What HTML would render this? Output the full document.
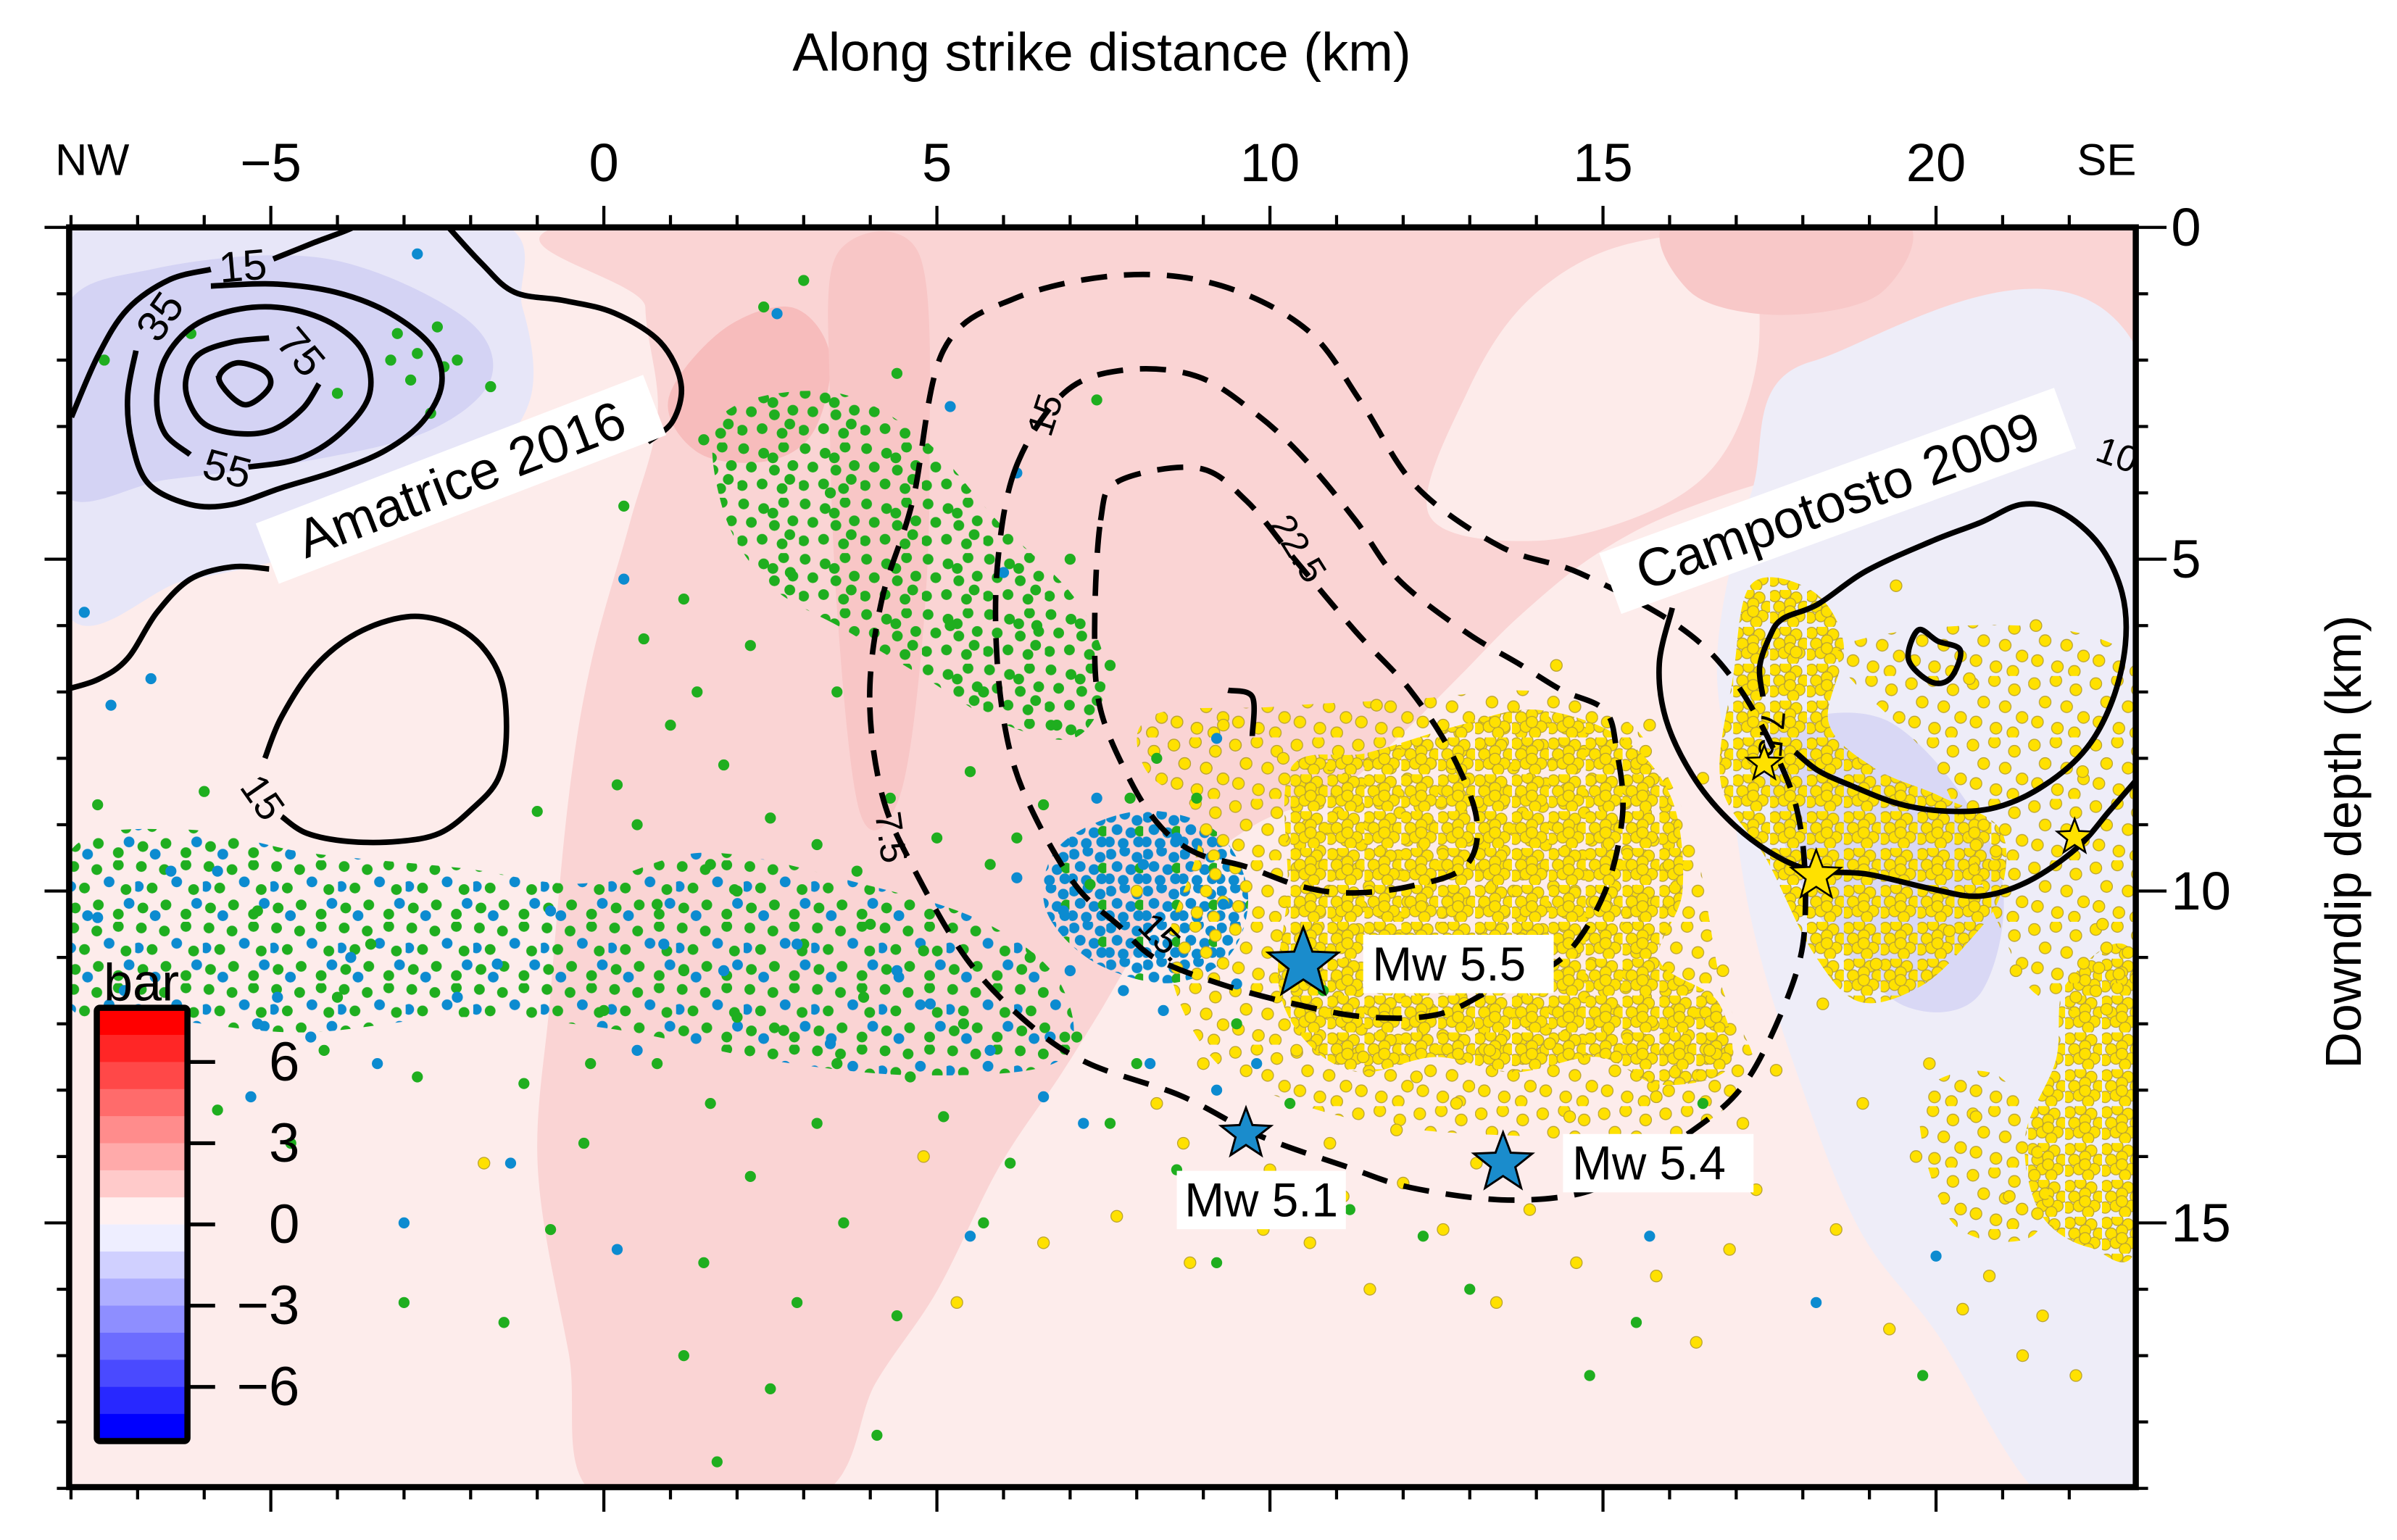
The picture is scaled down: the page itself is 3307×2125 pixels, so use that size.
<!DOCTYPE html>
<html><head><meta charset="utf-8">
<style>
html,body{margin:0;padding:0;background:#fff;}
svg{display:block;}
text{font-family:"Liberation Sans",Arial,sans-serif;}
</style></head>
<body>
<svg id="chart" xmlns="http://www.w3.org/2000/svg" width="3307" height="2125" viewBox="0 0 1560 1002.4">
<defs>
<clipPath id="plotclip"><rect x="45" y="148" width="1345" height="820"/></clipPath>
<pattern id="patY" width="24" height="24" patternUnits="userSpaceOnUse">
<g fill="#ffe100" stroke="#b9a233" stroke-width="0.6">
<circle cx="3" cy="4" r="3.7"/><circle cx="10" cy="2" r="3.7"/><circle cx="17" cy="5" r="3.7"/><circle cx="22" cy="11" r="3.7"/>
<circle cx="6" cy="11" r="3.7"/><circle cx="13" cy="9" r="3.7"/><circle cx="19" cy="17" r="3.7"/><circle cx="2" cy="18" r="3.7"/>
<circle cx="9" cy="17" r="3.7"/><circle cx="15" cy="21" r="3.7"/><circle cx="13" cy="14" r="3.7"/>
</g>
</pattern>
<pattern id="patYs" width="40" height="40" patternUnits="userSpaceOnUse">
<g fill="#ffe100" stroke="#b9a233" stroke-width="0.6">
<circle cx="4" cy="5" r="3.8"/><circle cx="18" cy="3" r="3.8"/><circle cx="31" cy="9" r="3.8"/><circle cx="11" cy="17" r="3.8"/>
<circle cx="25" cy="20" r="3.8"/><circle cx="36" cy="27" r="3.8"/><circle cx="6" cy="30" r="3.8"/><circle cx="19" cy="34" r="3.8"/><circle cx="30" cy="37" r="3.8"/>
</g>
</pattern>
<pattern id="patG" width="40" height="36" patternUnits="userSpaceOnUse">
<g fill="#1fae1f">
<circle cx="4" cy="4" r="3.5"/><circle cx="17" cy="7" r="3.5"/><circle cx="30" cy="3" r="3.5"/><circle cx="9" cy="16" r="3.5"/>
<circle cx="24" cy="18" r="3.5"/><circle cx="36" cy="15" r="3.5"/><circle cx="3" cy="28" r="3.5"/><circle cx="16" cy="27" r="3.5"/><circle cx="29" cy="30" r="3.5"/>
<circle cx="23" cy="10" r="3.5"/><circle cx="34" cy="24" r="3.5"/>
</g>
</pattern>
<pattern id="patGB" width="44" height="40" patternUnits="userSpaceOnUse">
<g fill="#1fae1f">
<circle cx="4" cy="4" r="3.5"/><circle cx="19" cy="6" r="3.5"/><circle cx="33" cy="3" r="3.5"/><circle cx="11" cy="18" r="3.5"/>
<circle cx="38" cy="19" r="3.5"/><circle cx="5" cy="31" r="3.5"/><circle cx="20" cy="29" r="3.5"/><circle cx="33" cy="35" r="3.5"/>
</g>
<g fill="#0c8bd0">
<circle cx="27" cy="14" r="3.5"/><circle cx="13" cy="36" r="3.5"/><circle cx="40" cy="28" r="3.5"/><circle cx="2" cy="17" r="3.5"/>
</g>
</pattern>
<pattern id="patB" width="24" height="24" patternUnits="userSpaceOnUse">
<g fill="#0c8bd0">
<circle cx="3" cy="4" r="3.5"/><circle cx="12" cy="2" r="3.5"/><circle cx="20" cy="6" r="3.5"/><circle cx="7" cy="12" r="3.5"/>
<circle cx="16" cy="14" r="3.5"/><circle cx="2" cy="20" r="3.5"/><circle cx="11" cy="21" r="3.5"/><circle cx="21" cy="20" r="3.5"/>
</g>
<circle cx="22" cy="13" r="3.5" fill="#1fae1f"/>
</pattern>
</defs>
<g id="plot" clip-path="url(#plotclip)"></g>
<g id="overlay"></g>
<g id="axes"></g>
</svg>
<script>
// ---- data (km) ----
const xTicks = [-5, 0, 5, 10, 15, 20];
const yTicks = [0, 5, 10, 15];
const cbarValues = [8,7,6,5,4,3,2,1,0,-1,-2,-3,-4,-5,-6,-7];
const cbarColors = ["#ff0000","#ff2626","#ff4848","#ff6b6b","#ff8c8c","#ffaaaa","#ffcaca","#fff0f0","#eeeeff","#d0d0ff","#aeaeff","#8e8eff","#6c6cff","#4a4aff","#2828ff","#0000ff"];
const cbarTicks = [6, 3, 0, -3, -6];
const mainshockX = [10.5, 9.64, 13.5];
const mainshockY = [11.1, 13.66, 14.1];
const mainshockLabels = ["Mw 5.5", "Mw 5.1", "Mw 5.4"];
const campoX = [17.42, 18.2, 22.08];
const campoY = [8.08, 9.77, 9.19];
const campoSize = [12, 17, 12];
const greenPts = [[-7.5,2],[-6.2,1.6],[-4,2.5],[-2.2,2],[-2.6,2.8],[-0.5,3.1],[0.3,4.2],[1.2,5.6],[1.5,3.2],[2.4,1.2],[3,0.8],[2.2,6.3],[1,7.5],[3.5,7],[5.5,8.2],[6.8,7.5],[8.3,8],[7.4,2.6],[4.4,2.2],[6.5,6],[0.5,9],[-1,8.8],[2,10],[3.2,9.3],[5.8,9.6],[6.4,11],[4.6,12.8],[3.2,13.5],[2.2,14.3],[1.5,15.6],[3.6,15],[-1.5,16.5],[-3,16.2],[1.2,17],[2.5,17.5],[4.4,16.4],[5.7,15],[7.6,13.5],[8.6,14.2],[9.2,15.6],[10.3,13.2],[11.2,14.8],[12.3,15.2],[13,16],[15.5,16.5],[14.8,17.3],[16.5,13.2],[19.8,17.3],[-6,8.5],[-7.6,8.7],[-4.7,13.8],[-2.8,12.8],[-0.3,13.8],[0.8,12.6],[-5.8,13.3],[9.5,12],[8,12.6],[10.8,11.5],[4,10.5],[1.2,11.2],[-3.5,10.8],[-6.5,11.8],[0,11.8],[5.2,6],[7,5],[3.8,9.7],[-3.1,1.6],[-2.8,1.9],[-2.5,1.5],[-2.9,2.3],[-2.4,2.1],[-3.2,2.0],[-1.7,2.4],[0.6,6.2],[1.8,8.1],[2.7,12.1],[3.9,11.6],[5.1,13.4],[6.1,14.1],[7.1,12.2],[-4.2,12.4],[-1.2,12.9],[1.6,13.2],[-0.8,15.1],[2.9,16.2],[4.1,18.2],[1.7,18.6],[-4,11.6],[-5.2,10.3],[8.9,8.6],[6.2,9.2],[0.8,10.2],[1.6,9.6],[2.5,8.9],[4.3,8.6],[5,9.2],[6.6,8.7],[7.3,9.9],[3,10.8],[4.8,10.9],[0.2,8.4],[1.4,7],[2.8,5.2],[3.4,4],[7.6,6.6],[7.9,8.6],[5.7,7],[2,11.9],[3.5,12.6],[5.4,12],[-0.2,12.6]];
const bluePts = [[-7.8,5.8],[-6.5,9.7],[-5.2,12],[-3.8,11],[-2.2,11.6],[-0.8,10.3],[0.5,12.4],[1.8,11.2],[2.9,10.8],[3.4,12.3],[4.9,11.7],[5.8,12.4],[6.7,12.2],[7.2,13.5],[8.2,12.6],[7,11.2],[6.2,9.8],[9.5,11.4],[9.2,13],[-7.2,11.5],[-4.9,11.6],[-6.7,12.8],[-3,15],[-1.4,14.1],[0.2,15.4],[5.5,15.2],[2.6,1.3],[5.2,2.7],[6.2,3.7],[6,5.2],[0.3,5.3],[-2.8,0.4],[9.2,7.7],[15.7,15.2],[18.2,16.2],[20,15.5],[-7,12.2],[-6.8,6.8],[-7.4,7.2],[-5.3,13.1],[-4.4,12.2],[-3.4,12.6],[8.4,11.8],[9.8,12.6],[7.8,11.5],[6.6,13.1],[4.4,11.2],[-7.6,10.4],[-5.8,9.7],[-1.6,11.1],[0.9,10.8],[7.4,8.6],[8.6,9.2],[6.9,10.3],[9.3,10.2],[8.1,9.6]];
const yellowPts = [[9.3,7.5],[10.2,8],[11.6,7.2],[12.6,7.5],[14.3,6.6],[15.7,7.5],[16.5,8.3],[9.2,14.7],[8.8,15.6],[10.6,15.3],[11.5,16],[12.6,15.1],[13.4,16.2],[14.6,15.6],[15.8,15.8],[16.4,16.8],[17.3,14.5],[18.5,15.1],[19.7,14],[20.8,15.8],[21.3,17],[21.6,16.4],[17.6,12.7],[16.8,11.2],[15.2,12.5],[14.5,13.4],[12.8,13.2],[11.4,12.5],[10.9,13.8],[7.7,14.9],[6.6,15.3],[4.8,14],[8,10],[20.5,6.8],[19.4,5.4],[21.5,6],[22.2,8.2],[22.5,10.5],[21.2,11.2],[20.2,10.6],[17.9,6.4],[-1.8,14.1],[5.3,16.2],[22.1,17.3],[19.3,16.6],[13.9,14.8],[10,14.2],[12,14.4],[9.6,13.6],[10.4,12.4],[12.2,12.8],[13.3,12.4],[16.1,14.2],[17.1,13.5],[18.9,13.2],[19.9,12.6],[20.6,13.4],[21.1,14.6],[8.7,13.8],[9.9,15.1],[11.1,14.6],[14.9,14.2],[16.9,15.4],[20.4,16.3],[8.3,13.2],[9,12.6],[11.9,13.6],[13.1,14.1],[14.2,12.3],[15.8,13.1],[16.6,12.4],[18.3,11.7],[19.1,11.1]];

// ---- axes ----
const X0 = 393, XS = 43.35, Y0 = 148, YS = 43.2;
function X(k){ return X0 + k*XS; }
function Y(d){ return Y0 + d*YS; }
const NS = "http://www.w3.org/2000/svg";
function el(tag, attrs, parent){
  const e = document.createElementNS(NS, tag);
  for (const k in attrs) e.setAttribute(k, attrs[k]);
  parent.appendChild(e);
  return e;
}
function smooth(pts, closed){
  const n = pts.length;
  const P = i => closed ? pts[(i+n)%n] : pts[Math.max(0, Math.min(n-1, i))];
  let d = "M" + pts[0][0] + "," + pts[0][1];
  const last = closed ? n : n-1;
  for (let i=0;i<last;i++){
    const p0=P(i-1), p1=P(i), p2=P(i+1), p3=P(i+2);
    const c1=[p1[0]+(p2[0]-p0[0])/6, p1[1]+(p2[1]-p0[1])/6];
    const c2=[p2[0]-(p3[0]-p1[0])/6, p2[1]-(p3[1]-p1[1])/6];
    d += "C"+c1[0].toFixed(1)+","+c1[1].toFixed(1)+" "+c2[0].toFixed(1)+","+c2[1].toFixed(1)+" "+p2[0].toFixed(1)+","+p2[1].toFixed(1);
  }
  return d + (closed ? "Z" : "");
}
const z3 = p => [542.5+0.395*p[0], 155.7+0.4255*p[1]];
const z4 = p => [1067.3+0.2106*p[0], 251.3+0.2406*p[1]];
const z5 = p => [42.45+0.2708*p[0], 141.5+0.2708*p[1]];

const plot = document.getElementById('plot');
const overlay = document.getElementById('overlay');
const axes = document.getElementById('axes');

// ---- stress background ----
function region(name, pts, fill){
  const p = el('path', {d: smooth(pts, true), fill: fill}, plot);
  
  
}
el('rect', {x:45, y:148, width:1345, height:820, fill:'#fdeceb'}, plot);
region('stress-positive-band', [[425,140],[1400,140],[1400,255],[1200,300],[1100,330],[1040,360],[990,400],[950,440],[910,480],[870,515],[820,535],[780,565],[745,610],[715,660],[690,700],[650,760],[610,840],[570,900],[530,975],[390,975],[370,880],[350,760],[358,650],[370,520],[385,430],[410,340],[428,270],[420,200]], '#fad4d4');
region('stress-light-patch', [[930,335],[955,255],[995,195],[1055,160],[1130,158],[1145,220],[1125,290],[1080,330],[1000,352]], '#fdebea');
region('stress-high-patch', [[435,260],[470,215],[515,200],[540,230],[530,280],[500,300],[455,295]], '#f7bcbc');
region('stress-high-strip', [[545,165],[598,165],[605,300],[600,420],[585,520],[560,530],[545,400],[540,260]], '#f8c6c6');
region('stress-top-right-patch', [[1090,140],[1235,140],[1225,190],[1160,205],[1100,190]], '#f8c8c8');
region('stress-negative-right', [[1180,235],[1400,250],[1400,975],[1330,975],[1262,870],[1210,800],[1170,700],[1140,600],[1125,500],[1118,420],[1140,320]], '#eeedf8');
region('stress-negative-right-core', [[1150,480],[1230,470],[1300,560],[1290,645],[1240,655],[1190,605],[1160,545]], '#d9d8f5');
region('stress-negative-topleft', [[40,140],[310,140],[340,200],[345,260],[310,305],[250,335],[190,362],[120,378],[40,392]], '#e7e6f8');
region('stress-negative-topleft-core', [[40,205],[100,175],[210,168],[300,205],[320,245],[280,280],[200,300],[110,312],[40,320]], '#d4d3f4');

// ---- seismicity density clouds ----
function cloud(name, pts, fill){
  const p = el('path', {d: smooth(pts, true), fill: fill}, plot);
  
  
}
cloud('amatrice-green-cluster', [[470,270],[540,255],[600,285],[650,340],[700,390],[720,440],[700,480],[650,470],[600,440],[550,410],[500,380],[470,330]], 'url(#patG)');
cloud('amatrice-band-cluster', [[45,555],[120,540],[200,555],[300,565],[380,575],[460,555],[560,575],[640,600],[690,640],[690,690],[600,700],[500,690],[400,670],[300,662],[200,672],[120,665],[45,655]], 'url(#patGB)');
cloud('blue-cluster', [[690,550],[740,528],[790,540],[812,580],[800,622],[760,640],[710,625],[680,590]], 'url(#patB)');
cloud('campotosto-sparse-cluster', [[745,470],[830,460],[920,455],[1000,450],[1060,470],[1100,540],[1120,640],[1140,700],[1080,745],[1000,740],[920,735],[850,720],[790,690],[760,620],[780,540]], 'url(#patYs)');
cloud('campotosto-main-cluster', [[840,500],[890,490],[950,472],[1000,462],[1055,480],[1088,520],[1095,580],[1080,625],[1118,652],[1125,695],[1080,706],[1040,688],[985,698],[935,688],[885,698],[850,678],[832,640],[838,580]], 'url(#patY)');
cloud('campotosto-right-cluster', [[1140,380],[1180,385],[1200,420],[1190,470],[1220,500],[1262,518],[1302,540],[1302,582],[1282,612],[1250,642],[1210,652],[1180,620],[1150,560],[1120,510],[1128,440]], 'url(#patY)');
cloud('campotosto-far-right-cluster', [[1345,640],[1390,625],[1392,805],[1360,812],[1328,790],[1318,740],[1338,690]], 'url(#patY)');
cloud('campotosto-lower-right-cluster', [[1250,715],[1300,700],[1332,760],[1322,805],[1270,795]], 'url(#patYs)');
cloud('campotosto-mid-right-cluster', [[1200,420],[1390,430],[1390,640],[1330,650],[1300,600],[1260,500]], 'url(#patYs)');
cloud('amatrice-small-cluster', [[745,470],[800,465],[812,500],[770,515],[745,500]], 'url(#patYs)');

// ---- sparse events ----
greenPts.forEach(p => {
  const c = el('circle', {cx: X(p[0]), cy: Y(p[1]), r: 3.6, fill: '#1fae1f'}, plot);
  
  
});
bluePts.forEach(p => {
  const c = el('circle', {cx: X(p[0]), cy: Y(p[1]), r: 3.6, fill: '#0c8bd0'}, plot);
  
  
});
yellowPts.forEach(p => {
  const c = el('circle', {cx: X(p[0]), cy: Y(p[1]), r: 3.8, fill: '#ffe100', stroke: '#b9a233', 'stroke-width': 0.6}, plot);
  
  
});

// ---- contours ----
function contour(name, pts, closed, dashed){
  const a = {d: smooth(pts, closed), fill: 'none', stroke: '#000', 'stroke-width': 3.6, 'stroke-linecap': 'butt'};
  if (dashed) a['stroke-dasharray'] = '17 11';
  const p = el('path', a, plot);
  
  
}
contour('slip-contour-15-top', [[15,480],[80,330],[150,220],[250,150],[350,125]].map(z5), false, false);
contour('slip-contour-15-top-b', [[500,100],[600,60],[690,25],[720,0]].map(z5), false, false);
contour('slip-contour-15-outer', [[900,0],[1000,110],[1080,180],[1200,200],[1320,230],[1430,300],[1480,400],[1460,490],[1400,540]].map(z5), false, false);
contour('slip-contour-15-outer-b', [[490,845],[400,840],[300,870],[220,950],[150,1060],[80,1110],[0,1135]].map(z5), false, false);
contour('slip-contour-35', [[350,165],[500,160],[650,180],[780,230],[880,310],[905,400],[860,490],[770,560],[650,610],[520,650],[400,690],[300,690],[200,640],[160,540],[150,430],[170,320]].map(z5), false, false);
contour('slip-contour-55', [[440,600],[560,580],[660,520],[730,430],[720,330],[650,260],[540,220],[420,220],[310,260],[240,340],[220,440],[240,520],[300,570]].map(z5), false, false);
contour('slip-contour-75', [[490,290],[400,300],[320,330],[290,390],[300,450],[340,500],[420,520],[500,510],[570,460],[610,400]].map(z5), false, false);
contour('slip-contour-95', [[370,390],[410,350],[480,370],[490,410],[430,450]].map(z5), true, false);
contour('slip-contour-15-lower', [[480,1300],[520,1200],[600,1080],[700,1000],[820,960],[920,975],[1000,1030],[1050,1120],[1060,1250],[1040,1350],[980,1420],[900,1480],[800,1500],[680,1500],[580,1480],[520,1440]].map(z5), false, false);
contour('campotosto-contour-outer', [[100,600],[60,750],[80,900],[160,1050],[270,1170],[400,1260],[530,1310],[700,1320],[900,1360],[1050,1380],[1200,1340],[1350,1250],[1450,1150],[1530,1070]].map(z4), false, false);
contour('campotosto-contour-inner', [[380,840],[370,760],[400,680],[440,630],[550,590],[700,500],[900,420],[1050,370],[1180,320],[1300,340],[1420,430],[1490,560],[1500,700],[1460,850],[1380,980],[1250,1080],[1100,1140],[950,1150],[800,1130],[650,1080],[550,1040],[480,990]].map(z4), false, false);
contour('campotosto-contour-peak', [[830,740],[860,660],[920,690],[990,715],[960,790],[900,800]].map(z4), true, false);
contour('dashed-contour-7-5', [[566,454],[574,390],[594,326],[614,228],[661,194],[732,179],[795,186],[851,215],[886,262],[922,317],[977,356],[1028,373],[1093,408],[1130,445],[1160,500],[1172,540],[1175,590],[1170,630],[1150,680],[1130,712],[1100,737],[1060,762],[1028,777],[977,781],[918,773],[878,760],[819,739],[768,713],[708,692],[669,666],[629,624],[594,564],[574,517]], true, true);
contour('dashed-contour-15', [[300,350],[270,500],[270,650],[290,780],[330,880],[400,990],[470,1050],[530,1100],[640,1140],[760,1170],[880,1190],[1000,1185],[1100,1140],[1200,1100],[1270,1000],[1300,880],[1290,780],[1270,720],[1200,690],[1130,650],[1040,600],[930,520],[860,430],[780,340],[700,270],[600,210],[480,200],[380,235]].map(z3), true, true);
contour('dashed-contour-22-5', [[440,430],[470,370],[600,350],[680,400],[760,490],[860,600],[950,690],[1020,790],[1060,890],[1040,960],[950,990],[850,1000],[770,990],[680,960],[600,940],[540,900],[490,830],[440,720],[430,600]].map(z3), true, true);
contour('dashed-contour-small', [[650,690],[690,700],[690,760]].map(z3), false, false);

// ---- contour labels ----
function clabel(name, txt, x, y, rot, size){
  const t = el('text', {x:x, y:y, 'font-size': size||26, 'text-anchor':'middle', 'dominant-baseline':'central', transform:'rotate('+rot+' '+x+' '+y+')', fill:'#000'}, plot);
  t.textContent = txt;
  
  
}
clabel('contour-label-15-top', '15', 158, 173, -5, 28);
clabel('contour-label-35', '35', 104, 206, -55, 28);
clabel('contour-label-75', '75', 196, 229, 50, 28);
clabel('contour-label-55', '55', 148, 305, 15, 28);
clabel('contour-label-15-lower', '15', 171, 519, 55, 26);
clabel('contour-label-15-dashed', '15', 680, 270, -72, 24);
clabel('contour-label-22-5', '22.5', 845, 357, 58, 24);
clabel('contour-label-7-5', '7.5', 580, 545, 82, 24);
clabel('contour-label-15-inner', '15.', 757, 610, 45, 24);
clabel('contour-label-7-5-campotosto', '7.5', 1153, 478, 95, 22);
clabel('contour-label-10', '10', 1378, 296, 20, 24);

// ---- event labels ----
function boxedText(name, txt, cx, cy, rot, size, w, h){
  const g = el('g', {transform:'rotate('+rot+' '+cx+' '+cy+')'}, overlay);
  
  
  el('rect', {x: cx - w/2, y: cy - h/2, width: w, height: h, fill:'#fff'}, g);
  const t = el('text', {x:cx, y:cy, 'font-size':size, 'text-anchor':'middle', 'dominant-baseline':'central', fill:'#000'}, g);
  t.textContent = txt;
}
boxedText('amatrice-2016-label', 'Amatrice 2016', 300, 312, -21, 35, 270, 42);
boxedText('campotosto-2009-label', 'Campotosto 2009', 1196, 326, -20, 35, 315, 42);

function starPath(cx, cy, R){
  const r = R*0.42; let d = '';
  for (let i=0;i<10;i++){
    const a = -Math.PI/2 + i*Math.PI/5;
    const rr = i%2===0 ? R : r;
    d += (i===0?'M':'L') + (cx+rr*Math.cos(a)).toFixed(1) + ',' + (cy+rr*Math.sin(a)).toFixed(1);
  }
  return d + 'Z';
}
const msSize = [24, 17, 20];
mainshockX.forEach((v,i) => {
  const cx = X(v), cy = Y(mainshockY[i]);
  const s = el('path', {d: starPath(cx, cy, msSize[i]), fill:'#1a8ccc', stroke:'#000', 'stroke-width':1.4}, overlay);
  
  
  let lx, ly, anchor, bx;
  if (i === 1) { lx = cx + 10; ly = cy + 43; anchor = 'middle'; bx = lx - 55; }
  else { lx = cx + 45; ly = cy; anchor = 'start'; bx = lx - 6; }
  const r = el('rect', {x: bx, y: ly - 19, width: i===1 ? 110 : 124, height: 38, fill:'#fff'}, overlay);
  
  
  const t = el('text', {x: lx, y: ly, 'font-size': 31, 'dominant-baseline':'central', 'text-anchor': anchor, fill:'#000'}, overlay);
  t.textContent = mainshockLabels[i];
  
  
});
campoX.forEach((v,i) => {
  const s = el('path', {d: starPath(X(v), Y(campoY[i]), campoSize[i]), fill:'#ffe100', stroke:'#000', 'stroke-width':1.2}, overlay);
  
  
});

// ---- colorbar ----
const cbX = 63, cbW = 59, cbTop = 656, cbBot = 938;
const cbScale = (cbBot - cbTop) / 16;
const CB = v => cbTop + (8 - v) * cbScale;
cbarValues.forEach((v,i) => {
  const r = el('rect', {x: cbX, y: CB(v), width: cbW, height: cbScale + 0.5, fill: cbarColors[i]}, overlay);
  
  
});
const cbFrame = el('rect', {x: cbX, y: cbTop, width: cbW, height: cbBot-cbTop, fill:'none', stroke:'#000', 'stroke-width':4, rx:2}, overlay);


cbarTicks.forEach(v => {
  el('line', {x1: cbX+cbW, x2: cbX+cbW+18, y1: CB(v), y2: CB(v), stroke:'#000', 'stroke-width':2.5}, overlay);
  const t = el('text', {x: 195, y: CB(v), 'font-size': 36, 'text-anchor':'end', 'dominant-baseline':'central', fill:'#000'}, overlay);
  t.textContent = v < 0 ? '\u2212' + Math.abs(v) : String(v);
  
  
});
const cbTitle = el('text', {x: 92, y: 640, 'font-size': 34, 'text-anchor':'middle', 'dominant-baseline':'central', fill:'#000'}, overlay);
cbTitle.textContent = 'bar';



// ---- frame & ticks ----
const L = 45, R = 1390, T = 148, B = 968;
const frame = el('rect', {x:L, y:T, width:R-L, height:B-T, fill:'none', stroke:'#000', 'stroke-width':4}, axes);


for (let k=-8; k<=23; k++){
  const x = X(k); if (x < L || x > R) continue;
  const major = k % 5 === 0;
  el('line', {x1:x, x2:x, y1:T, y2:T-(major?14:8), stroke:'#000', 'stroke-width':2}, axes);
  el('line', {x1:x, x2:x, y1:B, y2:B+(major?16:8), stroke:'#000', 'stroke-width':2}, axes);
}
for (let d=0; d<=19; d++){
  const y = Y(d); if (y < T-1 || y > B+1) continue;
  const major = d % 5 === 0;
  el('line', {x1:L, x2:L-(major?16:8), y1:y, y2:y, stroke:'#000', 'stroke-width':2}, axes);
  el('line', {x1:R, x2:R+(major?20:8), y1:y, y2:y, stroke:'#000', 'stroke-width':2}, axes);
}
xTicks.forEach(v => {
  const t = el('text', {x: X(v), y: 118, 'font-size': 35, 'text-anchor':'middle', fill:'#000'}, axes);
  t.textContent = v < 0 ? '\u2212' + Math.abs(v) : String(v);
  
  
});
yTicks.forEach(v => {
  const t = el('text', {x: 1413, y: Y(v) + 12, 'font-size': 35, 'text-anchor':'start', fill:'#000'}, axes);
  t.textContent = String(v);
  
  
});
const nw = el('text', {x: 60, y: 114, 'font-size': 29, 'text-anchor':'middle', fill:'#000'}, axes);
nw.textContent = 'NW';


const se = el('text', {x: 1371, y: 114, 'font-size': 29, 'text-anchor':'middle', fill:'#000'}, axes);
se.textContent = 'SE';


const xt = el('text', {x: 717, y: 46, 'font-size': 35, 'text-anchor':'middle', fill:'#000'}, axes);
xt.textContent = 'Along strike distance (km)';


const yt = el('text', {x: 1525, y: 548, 'font-size': 33, 'text-anchor':'middle', 'dominant-baseline':'central', transform:'rotate(-90 1525 548)', fill:'#000'}, axes);
yt.textContent = 'Downdip depth (km)';


</script>
</body></html>
